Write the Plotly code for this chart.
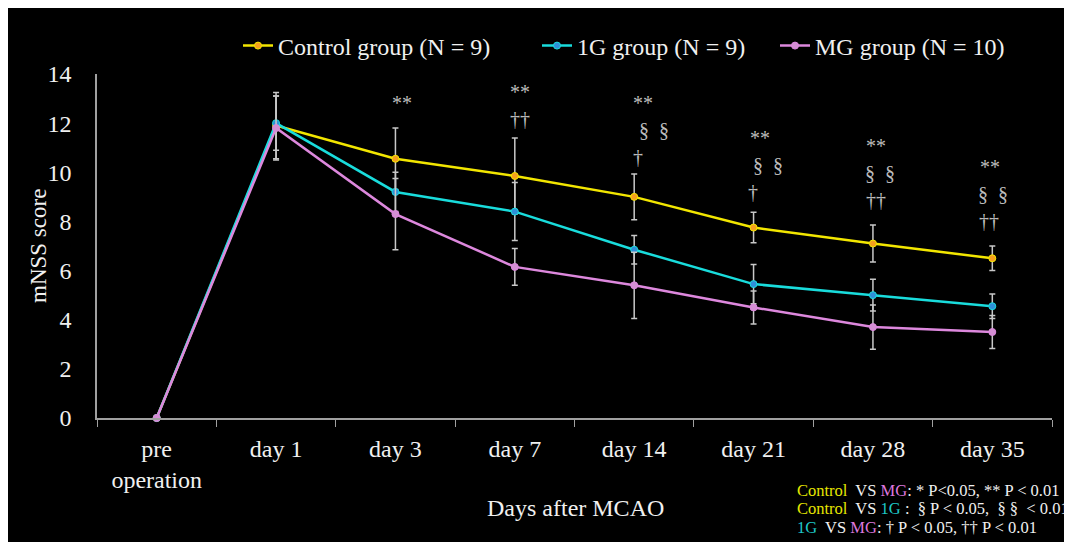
import plotly.graph_objects as go

categories = ["pre<br>operation", "day 1", "day 3", "day 7", "day 14", "day 21", "day 28", "day 35"]
control = [0, 11.9, 10.55, 9.85, 9.0, 7.75, 7.1, 6.5]
control_sd = [0, 1.35, 1.25, 1.55, 0.93, 0.62, 0.75, 0.5]
g1 = [0, 12.0, 9.2, 8.4, 6.85, 5.45, 5.0, 4.55]
g1_sd = [0, 1.1, 0.8, 1.18, 0.58, 0.8, 0.65, 0.5]
mg = [0, 11.8, 8.3, 6.15, 5.4, 4.5, 3.7, 3.5]
mg_sd = [0, 1.3, 1.45, 0.75, 1.35, 0.67, 0.9, 0.67]

series_names = ["Control group (N = 9)", "1G group (N = 9)", "MG group (N = 10)"]
y_ticks = [0, 2, 4, 6, 8, 10, 12, 14]

# significance marks: category, lines (top -> bottom), y of top line
sig_cats = ["day 3", "day 7", "day 14", "day 21", "day 28", "day 35"]
sig_lines = [["**"], ["**", "††"], ["**", "§\u00a0\u00a0§", "†"], ["**", "§\u00a0\u00a0§", "†"],
             ["**", "§\u00a0\u00a0§", "††"], ["**", "§\u00a0\u00a0§", "††"]]
sig_top = [12.82, 13.27, 12.82, 11.4, 11.07, 10.2]
sig_shift = [[7], [5, 5], [9, 20, 4], [6, 14, -1], [3, 7, 3], [-2, 1, -3]]

FONT = "Liberation Serif"
W, H = 1064, 534
L, R, T, B = 89, 20, 66, 124
PW, PH = W - L - R, H - T - B

def px_to_paper(x, y):
    return (x - L) / PW, (H - B - y) / PH

line_colors = ["#f2e600", "#19dcdc", "#dd88dd"]
marker_colors = ["#f5a01e", "#2f8fd8", "#d48fd4"]
sds = [control_sd, g1_sd, mg_sd]
vals = [control, g1, mg]
legends = ["legend", "legend2", "legend3"]

fig = go.Figure()
for i in range(3):
    fig.add_trace(go.Scatter(
        x=categories, y=vals[i], name=series_names[i], mode="lines+markers",
        line=dict(color=line_colors[i], width=2.5),
        marker=dict(color=marker_colors[i], size=7, line=dict(color=line_colors[i], width=1)),
        error_y=dict(type="data", array=sds[i], visible=True, color="#c8c8c8", thickness=1.5, width=3),
        cliponaxis=False, legend=legends[i],
    ))

annotations = []
step = 1.1
for cat, lines, top, shifts in zip(sig_cats, sig_lines, sig_top, sig_shift):
    for j, (t, xs) in enumerate(zip(lines, shifts)):
        annotations.append(dict(x=cat, y=top - j * step, xref="x", yref="y", text=t,
                                showarrow=False, xshift=xs, xanchor="center", yanchor="middle",
                                font=dict(family=FONT, size=20, color="#bcbcbc")))

# axis titles
ax, ay = px_to_paper(567, 500)
annotations.append(dict(x=ax, y=ay, xref="paper", yref="paper", text="Days after MCAO",
                        xanchor="center", yanchor="middle",
                        showarrow=False, font=dict(family=FONT, size=24, color="#f0f0f0")))
ax, ay = px_to_paper(30, 238)
annotations.append(dict(x=ax, y=ay, xref="paper", yref="paper", text="mNSS score", textangle=-90,
                        xanchor="center", yanchor="middle",
                        showarrow=False, font=dict(family=FONT, size=23, color="#f0f0f0")))

Y_ = "#e6e600"; P_ = "#dd77dd"; C_ = "#1ec8c8"; Wt = "#f0f0f0"
notes = [
    f"<span style='color:{Y_}'>Control</span>  VS <span style='color:{P_}'>MG</span>: * P&lt;0.05, ** P &lt; 0.01",
    f"<span style='color:{Y_}'>Control</span>  VS <span style='color:{C_}'>1G</span> :  § P &lt; 0.05,  § §  &lt; 0.01",
    f"<span style='color:{C_}'>1G</span>  VS <span style='color:{P_}'>MG</span>: † P &lt; 0.05, †† P &lt; 0.01",
]
for note, yy in zip(notes, [482, 500, 519]):
    ax, ay = px_to_paper(787, yy)
    annotations.append(dict(x=ax, y=ay, xref="paper", yref="paper", text=note,
                            xanchor="left", yanchor="middle",
                            showarrow=False, font=dict(family=FONT, size=16.5, color=Wt)))

leg_common = dict(orientation="h", yanchor="middle", xanchor="left", bgcolor="rgba(0,0,0,0)",
                  font=dict(family=FONT, size=24, color="#f0f0f0"), itemwidth=30)
lx1, ly = px_to_paper(230, 38)
lx2, _ = px_to_paper(529, 38)
lx3, _ = px_to_paper(767, 38)

fig.update_layout(
    width=W, height=H,
    margin=dict(l=L, r=R, t=T, b=B),
    paper_bgcolor="black", plot_bgcolor="black",
    showlegend=True,
    legend=dict(x=lx1, y=ly, **leg_common),
    legend2=dict(x=lx2, y=ly, **leg_common),
    legend3=dict(x=lx3, y=ly, **leg_common),
    annotations=annotations,
    xaxis=dict(type="category", range=[-0.5, 7.5], showgrid=False, zeroline=False,
               showline=True, linecolor="#a0a0a0", linewidth=1.5,
               ticks="outside", tickson="boundaries", ticklen=7, tickcolor="#a0a0a0",
               ticklabelstandoff=8,
               tickfont=dict(family=FONT, size=24, color="#f0f0f0")),
    yaxis=dict(range=[0, 14], tickvals=y_ticks, showgrid=False, zeroline=False,
               showline=True, linecolor="#a0a0a0", linewidth=1.5, ticks="",
               ticklabelstandoff=19,
               tickfont=dict(family=FONT, size=24, color="#f0f0f0")),
)

fig.write_html("out.html")
